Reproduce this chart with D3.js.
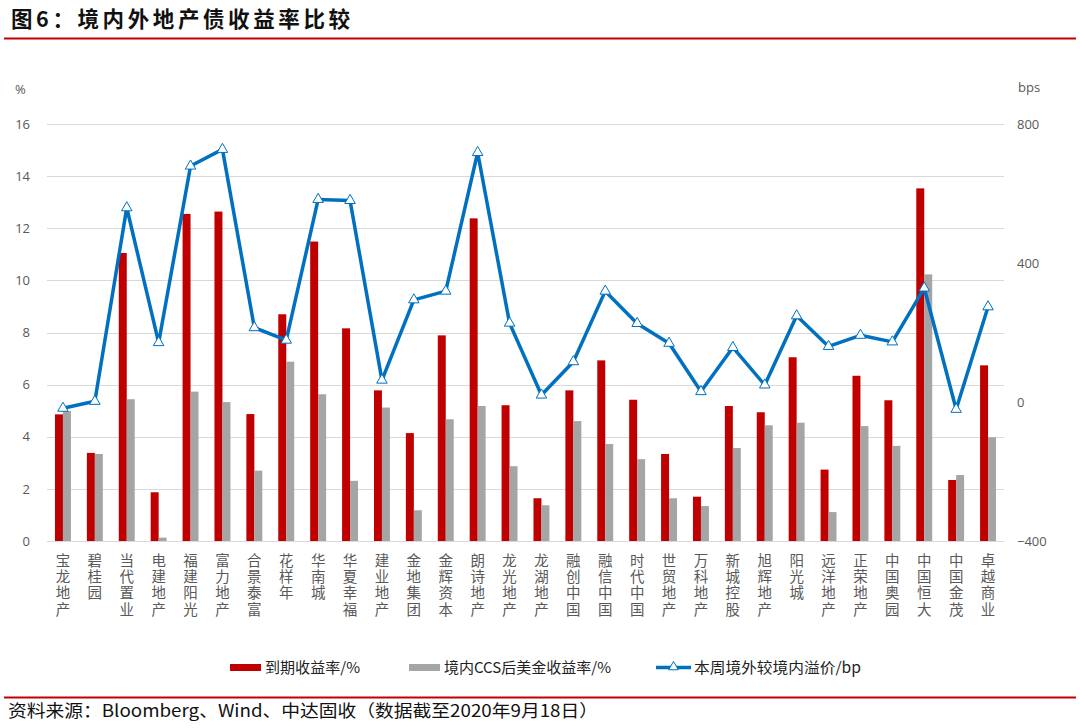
<!DOCTYPE html>
<html><head><meta charset="utf-8">
<script src="https://cdn.jsdelivr.net/npm/d3@7/dist/d3.min.js"></script>
<style>
html,body{margin:0;padding:0;background:#fff;}
svg{display:block;}
</style></head>
<body>
<svg id="chart" width="1080" height="728"></svg>
<script>
const categories = ["宝龙地产","碧桂园","当代置业","电建地产","福建阳光","富力地产","合景泰富","花样年","华南城","华夏幸福",
  "建业地产","金地集团","金辉资本","朗诗地产","龙光地产","龙湖地产","融创中国","融信中国","时代中国","世贸地产",
  "万科地产","新城控股","旭辉地产","阳光城","远洋地产","正荣地产","中国奥园","中国恒大","中国金茂","卓越商业"];
const ytmValues = [4.86,3.38,11.05,1.87,12.55,12.64,4.87,8.70,11.49,8.16,
  5.78,4.14,7.89,12.38,5.21,1.64,5.78,6.93,5.42,3.34,
  1.70,5.18,4.94,7.05,2.74,6.34,5.40,13.53,2.34,6.74];
const ccsValues = [4.99,3.34,5.44,0.13,5.73,5.33,2.70,6.88,5.63,2.31,
  5.12,1.18,4.67,5.18,2.87,1.37,4.60,3.72,3.14,1.64,
  1.34,3.57,4.44,4.54,1.11,4.41,3.65,10.23,2.53,3.98];
const premiumValues = [-18,2,559,171,679,727,214,178,583,580,
  63,294,319,718,227,20,116,319,226,169,
  30,157,49,248,160,192,173,328,-21,274];
const leftTicks = [0,2,4,6,8,10,12,14,16];
const rightTicks = [-400,0,400,800];
const seriesNames = ["到期收益率/%","境内CCS后美金收益率/%","本周境外较境内溢价/bp"];
const titleText = "图6：境内外地产债收益率比较";
const sourceText = "资料来源：Bloomberg、Wind、中达固收（数据截至2020年9月18日）";

const RED = "#C00000", GRAY = "#A5A5A5", BLUE = "#0070C0";
const svg = d3.select("#chart");
const cjk = "'Noto Sans CJK SC','Noto Sans',sans-serif";
const num = "'Open Sans','Liberation Sans',sans-serif";

// Title
svg.append("text").attr("x", 11).attr("y", 27)
  .attr("font-family", cjk).attr("font-weight", 700).attr("font-size", 21.5)
  .attr("letter-spacing", 3.6).attr("fill", "#111").text(titleText);
svg.append("line").attr("x1", 4).attr("x2", 1076).attr("y1", 38.5).attr("y2", 38.5)
  .attr("stroke", RED).attr("stroke-width", 2);

// Scales
const x = d3.scaleBand().domain(categories).range([47, 1004]).paddingInner(0.5).paddingOuter(0.25);
const xs = d3.scaleBand().domain(["ytm","ccs"]).range([0, x.bandwidth()]);
const yL = d3.scaleLinear().domain([0, 16]).range([541, 124]);
const yR = d3.scaleLinear().domain([-400, 800]).range([541, 124]);

// Gridlines
svg.append("g").selectAll("line").data(leftTicks).join("line")
  .attr("x1", 47).attr("x2", 1004)
  .attr("y1", d => Math.round(yL(d)) + 0.5).attr("y2", d => Math.round(yL(d)) + 0.5)
  .attr("stroke", "#D9D9D9").attr("stroke-width", 1);

// Left axis
const axL = svg.append("g").attr("transform", "translate(30,0)")
  .call(d3.axisLeft(yL).tickValues(leftTicks).tickSize(0).tickPadding(0));
axL.select(".domain").remove();
axL.selectAll("text").attr("font-family", num).attr("font-size", 13).attr("fill", "#595959");
svg.append("text").attr("x", 15).attr("y", 94).attr("font-family", num).attr("font-size", 13)
  .attr("fill", "#595959").text("%");

// Right axis
const axR = svg.append("g").attr("transform", "translate(1017,0)")
  .call(d3.axisRight(yR).tickValues(rightTicks).tickSize(0).tickPadding(0));
axR.select(".domain").remove();
axR.selectAll("text").attr("font-family", num).attr("font-size", 13).attr("fill", "#595959");
svg.append("text").attr("x", 1018).attr("y", 92).attr("font-family", num).attr("font-size", 13)
  .attr("fill", "#595959").text("bps");

// Bars
const gBars = svg.append("g");
gBars.selectAll("rect.ytm").data(categories).join("rect").attr("class","ytm")
  .attr("x", d => x(d) + xs("ytm")).attr("width", xs.bandwidth())
  .attr("y", (d,i) => yL(ytmValues[i])).attr("height", (d,i) => yL(0) - yL(ytmValues[i]))
  .attr("fill", RED);
gBars.selectAll("rect.ccs").data(categories).join("rect").attr("class","ccs")
  .attr("x", d => x(d) + xs("ccs")).attr("width", xs.bandwidth())
  .attr("y", (d,i) => yL(ccsValues[i])).attr("height", (d,i) => yL(0) - yL(ccsValues[i]))
  .attr("fill", GRAY);

// Line
const cx = d => x(d) + x.bandwidth() / 2;
const line = d3.line().x((d,i) => cx(categories[i])).y(d => yR(d));
svg.append("path").datum(premiumValues).attr("d", line)
  .attr("fill", "none").attr("stroke", BLUE).attr("stroke-width", 3.5).attr("stroke-linejoin", "round");
const tri = d3.symbol().type(d3.symbolTriangle).size(48);
svg.append("g").selectAll("path").data(premiumValues).join("path")
  .attr("d", tri).attr("transform", (d,i) => `translate(${cx(categories[i])},${yR(d)})`)
  .attr("fill", "#fff").attr("stroke", BLUE).attr("stroke-width", 1);

// X labels (vertical text)
svg.append("g").selectAll("text").data(categories).join("text")
  .attr("x", d => cx(d)).attr("y", 553)
  .attr("font-family", cjk).attr("font-size", 14.5).attr("fill", "#595959")
  .style("writing-mode", "vertical-rl").attr("letter-spacing", 1.8)
  .text(d => d);

// Legend
const lg = svg.append("g");
lg.append("rect").attr("x", 230).attr("y", 664).attr("width", 31).attr("height", 7).attr("fill", RED);
lg.append("text").attr("x", 265).attr("y", 673).attr("font-family", cjk).attr("font-size", 15)
  .attr("fill", "#222").attr("textLength", 95).attr("lengthAdjust","spacingAndGlyphs").text(seriesNames[0]);
lg.append("rect").attr("x", 409).attr("y", 664).attr("width", 31).attr("height", 7).attr("fill", GRAY);
lg.append("text").attr("x", 444).attr("y", 673).attr("font-family", cjk).attr("font-size", 15)
  .attr("fill", "#222").attr("textLength", 167).attr("lengthAdjust","spacingAndGlyphs").text(seriesNames[1]);
lg.append("line").attr("x1", 656).attr("x2", 691).attr("y1", 667.5).attr("y2", 667.5)
  .attr("stroke", BLUE).attr("stroke-width", 3.5);
lg.append("path").attr("d", d3.symbol().type(d3.symbolTriangle).size(40))
  .attr("transform", "translate(673.5,667)").attr("fill", "#fff").attr("stroke", BLUE).attr("stroke-width", 1);
lg.append("text").attr("x", 694).attr("y", 673).attr("font-family", cjk).attr("font-size", 15)
  .attr("fill", "#222").attr("textLength", 167).attr("lengthAdjust","spacingAndGlyphs").text(seriesNames[2]);

// Footer
svg.append("line").attr("x1", 4).attr("x2", 1076).attr("y1", 697.5).attr("y2", 697.5)
  .attr("stroke", RED).attr("stroke-width", 2);
svg.append("text").attr("x", 8).attr("y", 717).attr("font-family", cjk).attr("font-size", 17)
  .attr("fill", "#111").attr("textLength", 590).attr("lengthAdjust","spacingAndGlyphs").text(sourceText);
</script>
</body></html>
